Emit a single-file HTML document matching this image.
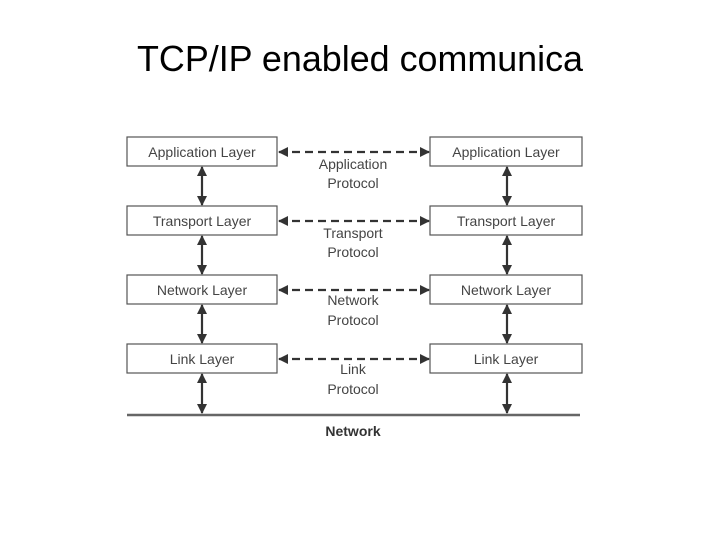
<!DOCTYPE html>
<html><head><meta charset="utf-8"><style>
html,body{margin:0;padding:0;background:#fff;width:720px;height:540px;overflow:hidden}
svg{display:block}
text{font-family:"Liberation Sans",Arial,sans-serif}
</style></head><body>
<svg width="720" height="540" viewBox="0 0 720 540" xmlns="http://www.w3.org/2000/svg">
<defs>
<marker id="ah" viewBox="0 0 10 10" refX="9" refY="5" markerWidth="10" markerHeight="10" markerUnits="userSpaceOnUse" orient="auto-start-reverse">
<path d="M0,0 L10,5 L0,10 z" fill="#333"/>
</marker>
</defs>
<text x="137" y="71" font-size="36" fill="#000" textLength="446" lengthAdjust="spacingAndGlyphs">TCP/IP enabled communica</text>
<g font-size="14" fill="#444" text-anchor="middle">
<!-- rows -->
<g id="rows">
</g>
</g>
<g stroke="#555" stroke-width="1.2" fill="#fff">
<rect x="127" y="137" width="150" height="29"/>
<rect x="430" y="137" width="152" height="29"/>
<rect x="127" y="206" width="150" height="29"/>
<rect x="430" y="206" width="152" height="29"/>
<rect x="127" y="275" width="150" height="29"/>
<rect x="430" y="275" width="152" height="29"/>
<rect x="127" y="344" width="150" height="29"/>
<rect x="430" y="344" width="152" height="29"/>
</g>
<g font-size="14" fill="#444" text-anchor="middle">
<text x="202" y="157">Application Layer</text>
<text x="506" y="157">Application Layer</text>
<text x="202" y="226">Transport Layer</text>
<text x="506" y="226">Transport Layer</text>
<text x="202" y="295">Network Layer</text>
<text x="506" y="295">Network Layer</text>
<text x="202" y="364">Link Layer</text>
<text x="506" y="364">Link Layer</text>
<text x="353" y="169">Application</text>
<text x="353" y="188">Protocol</text>
<text x="353" y="238">Transport</text>
<text x="353" y="257">Protocol</text>
<text x="353" y="305">Network</text>
<text x="353" y="325">Protocol</text>
<text x="353" y="374">Link</text>
<text x="353" y="394">Protocol</text>
<text x="353" y="436" font-weight="bold" fill="#333">Network</text>
</g>
<g stroke="#333" stroke-width="2.2" fill="none">
<line x1="279" y1="152" x2="429" y2="152" stroke-dasharray="8,5" marker-start="url(#ah)" marker-end="url(#ah)"/>
<line x1="279" y1="221" x2="429" y2="221" stroke-dasharray="8,5" marker-start="url(#ah)" marker-end="url(#ah)"/>
<line x1="279" y1="290" x2="429" y2="290" stroke-dasharray="8,5" marker-start="url(#ah)" marker-end="url(#ah)"/>
<line x1="279" y1="359" x2="429" y2="359" stroke-dasharray="8,5" marker-start="url(#ah)" marker-end="url(#ah)"/>
<line x1="202" y1="167" x2="202" y2="205" marker-start="url(#ah)" marker-end="url(#ah)"/>
<line x1="507" y1="167" x2="507" y2="205" marker-start="url(#ah)" marker-end="url(#ah)"/>
<line x1="202" y1="236" x2="202" y2="274" marker-start="url(#ah)" marker-end="url(#ah)"/>
<line x1="507" y1="236" x2="507" y2="274" marker-start="url(#ah)" marker-end="url(#ah)"/>
<line x1="202" y1="305" x2="202" y2="343" marker-start="url(#ah)" marker-end="url(#ah)"/>
<line x1="507" y1="305" x2="507" y2="343" marker-start="url(#ah)" marker-end="url(#ah)"/>
<line x1="202" y1="374" x2="202" y2="413" marker-start="url(#ah)" marker-end="url(#ah)"/>
<line x1="507" y1="374" x2="507" y2="413" marker-start="url(#ah)" marker-end="url(#ah)"/>
</g>
<line x1="127" y1="415" x2="580" y2="415" stroke="#666" stroke-width="2.5"/>
</svg>
</body></html>
